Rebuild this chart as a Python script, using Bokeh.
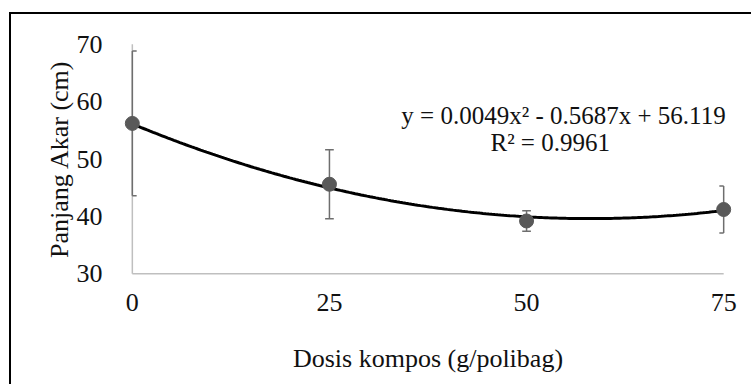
import numpy as np
from bokeh.plotting import figure
from bokeh.models import Range1d, Label, ColumnDataSource
from bokeh.embed import file_html
from bokeh.resources import INLINE

# ---- data ----
dosis = [0, 25, 50, 75]
panjang = [56.2, 45.6, 39.2, 41.2]
err = [12.6, 6.0, 1.8, 4.1]
x_ticks = [0, 25, 50, 75]
y_ticks = [30, 40, 50, 60, 70]
coef = [0.0049, -0.5687, 56.119]   # y = a x^2 + b x + c
eq_text = "y = 0.0049x² - 0.5687x + 56.119"
r2_text = "R² = 0.9961"
x_title = "Dosis kompos (g/polibag)"
y_title = "Panjang Akar (cm)"

FONT = "Liberation Serif"
FS = "26px"

p = figure(width=742, height=372, x_range=Range1d(-1.5, 76.5), y_range=Range1d(29, 71),
           output_backend="svg", toolbar_location=None,
           min_border_left=109, min_border_right=18, min_border_top=24, min_border_bottom=107)
p.styles = {"border-left": "2px solid black", "border-top": "2px solid black",
            "margin-left": "9px", "margin-top": "12px"}
p.grid.visible = False
p.outline_line_color = None
p.background_fill_color = "white"
p.border_fill_color = "white"

for ax in (p.xaxis[0], p.yaxis[0]):
    ax.axis_line_color = None
    ax.major_tick_line_color = None
    ax.minor_tick_line_color = None
    ax.major_label_text_font = FONT
    ax.major_label_text_font_size = FS
    ax.major_label_text_color = "#111111"
    ax.axis_label_text_font = FONT
    ax.axis_label_text_font_size = FS
    ax.axis_label_text_font_style = "normal"
    ax.axis_label_text_color = "#111111"

p.xaxis.ticker = x_ticks
p.yaxis.ticker = y_ticks
p.xaxis.axis_label = x_title
p.yaxis.axis_label = y_title
p.xaxis.major_label_standoff = 8
p.yaxis.major_label_standoff = 12
p.xaxis.axis_label_standoff = 30
p.yaxis.axis_label_standoff = 0

# axis lines (drawn in data space so they end exactly at the data limits)
p.segment(x0=[x_ticks[0]], y0=[y_ticks[0]], x1=[x_ticks[-1]], y1=[y_ticks[0]],
          line_color="#bfbfbf", line_width=1.5)
p.segment(x0=[x_ticks[0]], y0=[y_ticks[0]], x1=[x_ticks[0]], y1=[y_ticks[-1]],
          line_color="#bfbfbf", line_width=1.5)

# error bars
src = ColumnDataSource(dict(
    x=dosis, y=panjang,
    lo=[m - e for m, e in zip(panjang, err)],
    hi=[m + e for m, e in zip(panjang, err)],
))
p.segment(x0="x", y0="lo", x1="x", y1="hi", source=src, line_color="#6e6e6e", line_width=1.5)
cap = 0.55
capsrc = ColumnDataSource(dict(
    x0=[max(d - cap, x_ticks[0]) for d in dosis] * 2,
    x1=[min(d + cap, x_ticks[-1]) for d in dosis] * 2,
    y=[m - e for m, e in zip(panjang, err)] + [m + e for m, e in zip(panjang, err)],
))
p.segment(x0="x0", y0="y", x1="x1", y1="y", source=capsrc, line_color="#6e6e6e", line_width=1.5)

# trendline
xs = np.linspace(x_ticks[0], x_ticks[-1], 200)
ys = coef[0] * xs ** 2 + coef[1] * xs + coef[2]
p.line(xs, ys, line_color="black", line_width=3)

# markers
p.scatter("x", "y", source=src, size=14, fill_color="#595959", line_color="#595959")

# equation labels
p.add_layout(Label(x=75.25, y=57.6, text=eq_text, text_font=FONT, text_font_size="25px",
                   text_align="right", text_baseline="middle", text_color="#111111"))
p.add_layout(Label(x=53.0, y=52.9, text=r2_text, text_font=FONT, text_font_size="25px",
                   text_align="center", text_baseline="middle", text_color="#111111"))

open("out.html", "w").write(file_html(p, INLINE))
